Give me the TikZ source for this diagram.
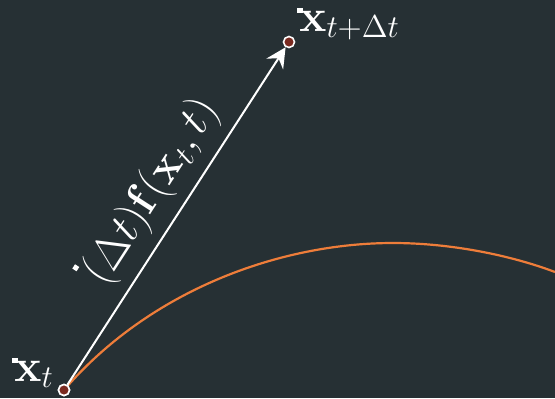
\documentclass[tikz,border=0pt]{standalone}
\usepackage{bm}
\usetikzlibrary{arrows.meta, positioning}

\definecolor{bgdark}{HTML}{263034}
\definecolor{trajorange}{HTML}{EE7D3A}
\definecolor{markred}{HTML}{7A2A20}

\newcommand{\sqdot}[1]{\rule[#1]{2.3pt}{2.3pt}\kern-1.4pt}

\tikzset{
  marker/.style={circle, draw=white, line width=0.8pt, fill=markred, minimum size=5.5pt, inner sep=0pt},
  vecline/.style={white, line width=1pt, -{Stealth[length=10pt, width=10pt, inset=3.5pt]}},
  traj/.style={trajorange, line width=1.1pt},
  lbl/.style={white, font=\huge, scale=1.1, inner sep=0pt}
}

\begin{document}
\begin{tikzpicture}[x=0.5pt, y=-0.5pt]
\fill [bgdark] (0,0) rectangle (555,398);
\useasboundingbox (0,0) rectangle (555,398);
% trajectory
\draw [traj] (64,390) .. controls (150,290) and (280,243) .. (393,243)
  .. controls (450,243) and (510,255) .. (555,272);
% points
\node at (64,390) [marker] (xt) {};
\node at (289,42) [marker] (xnext) {};
\draw [vecline] (xt) -- (xnext);
\node at (64,390) [marker] {};
% labels
\node at (12,381) [lbl, anchor=base west] (xtlabel) {$\sqdot{8.2pt}\mathbf{x}_t$};
\node at (297,31) [lbl, anchor=base west] (xnextlabel) {$\sqdot{8.2pt}\mathbf{x}_{t+\Delta t}$};
\node at (161.4,198.8) [lbl, anchor=base, rotate=57.1] (steplabel) {$\sqdot{14.5pt}(\Delta t)\mathbf{f}(\mathbf{x}_t, t)$};
\end{tikzpicture}
\end{document}
